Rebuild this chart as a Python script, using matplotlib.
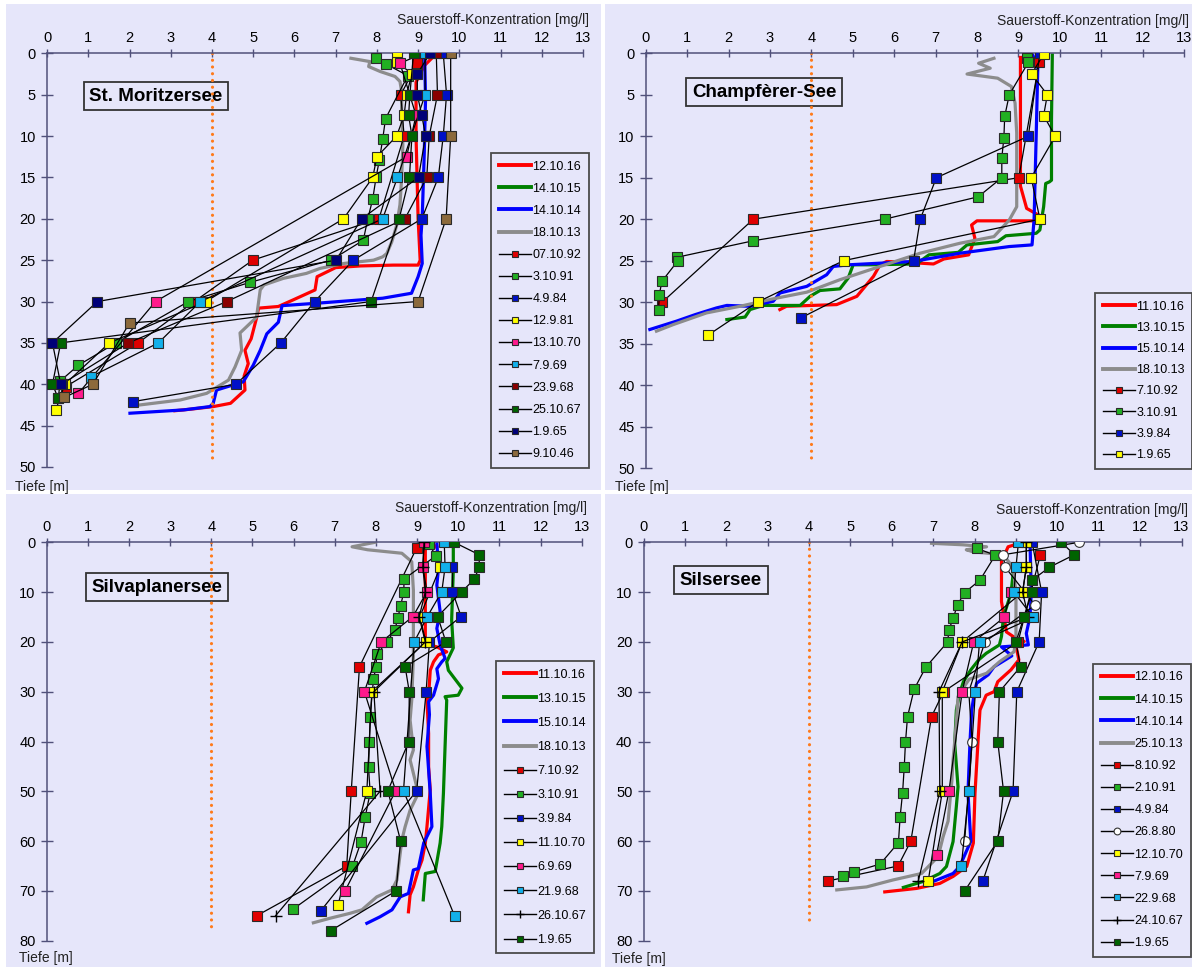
import matplotlib
matplotlib.use('Agg')
import matplotlib.pyplot as plt
from matplotlib.lines import Line2D
from matplotlib.patches import Rectangle

plt.rcParams['font.family'] = ['Liberation Sans', 'DejaVu Sans']

W, H = 1192, 967
BG = '#e6e6fa'

# --- St. Moritzersee -------------------------------------------------------
sm_161012 = ([9.35, 9.15, 8.95, 8.95, 9.0, 9.05, 9.0, 8.4, 7.6, 7.0, 6.55, 6.5, 5.97, 5.61, 5.13,
              5.08, 4.95, 4.8, 4.88, 4.78, 4.8, 4.45, 4.03, 3.5, 3.1],
             [0.5, 1.5, 3.5, 10, 20, 25.0, 25.6, 25.6, 25.7, 25.9, 27.0, 28.6, 29.8, 30.6, 30.8,
              32.0, 34.5, 35.9, 37.5, 39.0, 40.7, 42.3, 42.7, 43.0, 43.2])
sm_151014 = ([], [])
sm_141014 = ([9.16, 9.18, 9.15, 9.1, 9.07, 9.1, 9.0, 8.84, 8.14, 6.56, 5.7, 5.61, 5.33, 5.17, 5.0,
              4.76, 4.11, 4.03, 3.95, 3.31, 2.01],
             [0.5, 5.6, 12, 19.8, 22, 25.4, 27.0, 29.0, 29.6, 30.2, 30.5, 32.5, 33.9, 35.9, 37.7,
              39.7, 40.7, 42.3, 42.7, 43.1, 43.5])
sm_131018 = ([7.37, 7.83, 7.8, 8.08, 8.44, 8.56, 8.6, 8.6, 8.63, 8.6, 8.56, 8.48, 8.36, 8.24, 8.14,
              7.92, 7.2, 6.62, 6.29, 5.73, 5.26, 5.17, 5.08, 4.68, 4.72, 4.56, 4.4, 3.87, 3.23, 2.25],
             [0.6, 1.0, 1.6, 2.2, 2.8, 3.4, 4.6, 7.1, 11.1, 15.1, 18.3, 20.8, 22.8, 24.2, 24.6,
              25.0, 25.4, 26.0, 26.6, 27.2, 28.0, 28.6, 31.9, 33.8, 35.9, 37.9, 39.5, 41.1, 41.9, 42.5])

sm_921007 = ([8.98, 8.58, 8.66, 8.05, 4.99, 3.57, 2.21, 0.45], [1.2, 5, 10, 20, 25, 30, 35, 40.3])
sm_911003 = ([7.98, 8.22, 8.75, 8.21, 8.14, 8.06, 7.98, 7.9, 7.78, 7.67, 6.89, 4.91, 3.43, 1.67,
              0.76, 0.32, 0.27],
             [0.6, 1.3, 2.7, 7.9, 10.4, 12.9, 15, 17.6, 20, 22.6, 25, 27.7, 30, 35, 37.7, 39.6, 41.7])
sm_840904 = ([9.61, 9.69, 9.61, 9.49, 9.09, 7.43, 6.49, 5.67, 4.58, 2.08],
             [0, 5, 10, 15, 20, 25, 30, 35, 40, 42.1])
sm_810912 = ([8.48, 8.48, 8.85, 8.72, 8.66, 8.48, 8.0, 7.9, 7.19, 3.85, 1.51, 0.43, 0.21],
             [0, 1, 2.5, 5, 7.5, 10, 12.5, 15, 20, 30, 35, 40, 43.1])
sm_701013 = ([9.13, 8.56, 8.95, 8.72, 2.63, 0.76], [0, 1.2, 7.5, 12.5, 30, 41.1])
sm_690907 = ([9.17, 9.17, 8.5, 8.14, 3.72, 2.7, 1.06], [0, 5, 15, 20, 30, 35, 39.1])
sm_680923 = ([9.44, 9.47, 9.27, 9.21, 8.68, 4.36, 1.97, 0.35], [0, 5, 10, 15, 20, 30, 35, 40])
sm_671025 = ([8.89, 8.8, 8.77, 8.85, 8.79, 8.54, 7.86, 0.33, 0.13, 0.27],
             [0, 5, 7.5, 10, 15, 20, 30, 35, 40, 41.7])
sm_650901 = ([9.29, 8.98, 8.98, 9.09, 9.18, 9.01, 7.63, 7.01, 1.22, 0.13, 0.33],
             [0, 2.5, 5, 7.5, 10, 15, 20, 25, 30, 35, 40])
sm_461009 = ([9.79, 9.79, 9.68, 9.0, 2.0, 1.11, 0.41], [0, 10, 20, 30, 32.6, 40, 41.6])

# --- Champfèrer-See --------------------------------------------------------
cs_161011 = ([9.05, 9.05, 9.05, 9.2, 9.52, 9.4, 8.0, 7.87, 7.95, 7.8, 7.2, 6.95, 6.3, 5.82, 5.66,
              5.5, 5.1, 4.61, 3.4, 3.24],
             [0.5, 1.5, 16, 18.7, 19.6, 20.2, 20.2, 20.7, 22.3, 24.3, 24.8, 25.4, 25.2, 25.1, 25.5,
              26.9, 29.3, 30.3, 30.5, 30.9])
cs_151013 = ([9.82, 9.8, 9.8, 9.75, 9.66, 9.61, 9.52, 9.43, 8.7, 8.5, 7.76, 7.55, 6.84, 6.54, 5.42,
              5.01, 4.89, 4.69, 4.21, 3.97, 3.73, 2.84, 2.52, 2.4, 1.96],
             [0.2, 8, 15.3, 15.5, 15.7, 18.5, 21.3, 21.7, 22.0, 22.7, 23.1, 24.0, 24.3, 25.4, 25.5,
              25.5, 27.1, 28.4, 28.6, 29.3, 30.4, 30.4, 30.9, 31.8, 32.1])
cs_141015 = ([9.33, 9.47, 9.43, 9.38, 9.33, 8.78, 7.59, 6.46, 4.9, 4.53, 4.37, 3.89, 3.24, 3.08,
              2.52, 1.96, 1.71, 1.2, 0.74, 0.1],
             [0, 1.6, 10, 20, 23.1, 23.3, 24.1, 25.1, 25.5, 25.7, 26.7, 28.1, 28.9, 29.9,
              30.5, 30.4, 30.7, 31.5, 32.3, 33.3])
cs_131018 = ([8.41, 8.04, 8.32, 7.76, 8.5, 8.83, 8.92, 8.96, 8.96, 8.78, 8.41, 7.59, 6.63, 5.66,
              4.69, 3.89, 3.08, 2.28, 1.47, 0.67, 0.26],
             [0.6, 1.2, 1.8, 2.5, 3.0, 4.0, 6.0, 9.6, 18.5, 20.1, 22.1, 22.9, 24.1, 25.7,
              27.3, 28.8, 29.6, 30.5, 31.3, 32.7, 33.5])

cs_921007 = ([9.5, 9.01, 2.6, 0.4], [1.1, 15, 20, 30])
cs_911003 = ([9.22, 9.24, 8.78, 8.67, 8.65, 8.6, 8.6, 8.03, 5.77, 2.6, 0.75, 0.78, 0.39, 0.33, 0.31],
             [0.6, 1.1, 5, 7.6, 10.2, 12.6, 15, 17.3, 20, 22.6, 24.6, 25, 27.5, 29.1, 30.9])
cs_840903 = ([9.52, 9.24, 7.02, 6.63, 6.47, 3.75], [0, 10, 15, 20, 25, 31.9])
cs_650901 = ([9.61, 9.32, 9.7, 9.61, 9.89, 9.31, 9.52, 4.78, 2.7, 1.5],
             [0.1, 2.5, 5, 7.5, 10, 15, 20, 25, 30, 34])

# --- Silvaplanersee --------------------------------------------------------
sv_161011 = ([9.32, 9.48, 9.2, 9.2, 9.48, 9.72, 9.52, 9.4, 9.32, 9.28, 9.24, 9.28, 9.28, 9.32,
              9.24, 9.2, 9.12, 9.03, 8.91, 8.83, 8.79],
             [0.2, 0.9, 1.2, 20.4, 21.0, 22.0, 22.6, 24.0, 25.7, 30.7, 31.7, 38.4, 45.1, 49.7,
              57.1, 60.4, 63.8, 65.8, 69.2, 70.8, 74.2])
sv_151013 = ([9.88, 9.88, 9.84, 9.88, 9.72, 9.76, 10.09, 10.0, 9.68, 9.72, 9.68, 9.64, 9.6, 9.56,
              9.44, 9.2, 9.15],
             [0, 5.6, 15.6, 21.2, 24.0, 25.7, 29.3, 30.7, 31.0, 31.7, 41.0, 50.4, 57.1, 60.4,
              66.1, 66.5, 71.8])
sv_141015 = ([9.48, 9.52, 9.48, 9.56, 9.48, 9.56, 9.68, 9.6, 9.48, 9.52, 9.4, 9.28, 9.3, 9.24,
              9.32, 9.36, 9.16, 9.03, 8.91, 8.79, 8.59, 8.39, 8.1, 7.78],
             [0, 5.2, 8.6, 13.9, 17.3, 20.6, 23.3, 24.0, 25.4, 27.4, 30.7, 32.0, 34.6, 41.0,
              50.4, 57.1, 60.4, 65.5, 65.8, 70.5, 71.2, 73.8, 75.2, 76.5])
sv_131018 = ([7.98, 7.42, 7.8, 8.63, 8.87, 8.91, 8.91, 8.87, 8.83, 8.91, 8.83, 9.03, 8.83, 8.71,
              8.63, 8.55, 8.51, 8.39, 8.02, 7.66, 7.37, 6.88, 6.48],
             [0, 0.9, 1.5, 2.2, 3.9, 9.6, 23, 31.7, 35.7, 41.7, 43.7, 50.4, 53.8, 57.1,
              59.8, 65.1, 67.8, 69.8, 71.2, 73.8, 74.5, 75.5, 76.4])

sv_921007 = ([8.99, 7.6, 7.4, 7.29, 5.1], [1.1, 25, 50, 65, 75])
sv_911003 = ([9.28, 9.46, 8.68, 8.68, 8.6, 8.53, 8.46, 8.26, 8.02, 8.0, 7.94, 7.86, 7.84, 7.82,
              7.86, 7.74, 7.64, 7.43, 5.98],
             [0.3, 2.7, 7.4, 9.9, 12.7, 15.3, 17.6, 20.1, 22.5, 25.1, 27.5, 35.0, 40.2, 45.2,
              50.3, 55.1, 60.1, 65.1, 73.7])
sv_840903 = ([9.86, 9.86, 10.07, 9.3, 9.22, 8.99, 6.66], [5, 9.9, 14.9, 20, 30, 49.9, 74])
sv_701011 = ([9.56, 9.07, 9.21, 7.9, 7.78, 7.08], [5, 14.9, 20, 30, 49.9, 72.8])
sv_690906 = ([9.17, 9.14, 9.24, 8.9, 8.13, 7.72, 8.48, 7.25], [0, 5, 9.9, 14.9, 20, 30, 49.9, 70])
sv_680921 = ([9.66, 9.68, 9.6, 9.25, 8.93, 8.67, 9.91], [0, 5, 9.9, 14.9, 20, 49.9, 75])
sv_671026 = ([9.17, 9.14, 9.2, 9.05, 9.2, 7.95, 8.1, 5.56], [0, 5, 10, 15, 20, 30, 50, 75])
sv_650901 = ([9.9, 10.51, 10.51, 10.39, 10.09, 9.5, 9.7, 8.71, 8.81, 8.8, 8.29, 8.6, 8.49, 6.9],
             [0, 2.5, 5, 7.4, 9.9, 14.9, 20, 25, 30, 40, 49.9, 60, 70, 78])

# --- Silsersee -------------------------------------------------------------
ss_161012 = ([9.01, 8.81, 8.65, 8.65, 8.77, 8.93, 9.2, 8.97, 9.02, 9.07, 8.88, 8.56, 8.47, 8.28,
              8.13, 8.09, 8.01, 7.97, 7.81, 7.48, 7.16, 6.6, 5.83],
             [0.4, 0.9, 3.9, 11.9, 18.0, 18.9, 19.9, 20.6, 21.6, 23.6, 25.6, 28.0, 30.0, 30.7,
              33.7, 39.0, 50.4, 60.4, 65.1, 67.1, 68.5, 69.5, 70.2])
ss_151014 = ([8.95, 8.88, 8.7, 8.65, 8.6, 8.28, 8.1, 7.91, 7.73, 7.64, 7.56, 7.52, 7.6, 7.56,
              7.48, 7.32, 7.16, 6.76, 6.28],
             [5, 10.2, 14.9, 18.9, 20.6, 22.3, 23.6, 25.6, 28, 30.3, 33.7, 40.4, 49.1, 53,
              60.1, 65.1, 66.5, 68.1, 69.3])
ss_141014 = ([9.34, 9.37, 9.34, 9.25, 9.3, 8.65, 8.9, 8.47, 8.33, 8.05, 8.0, 7.93, 7.89, 7.84,
              7.91, 7.64, 7.48, 7.0],
             [0.2, 10, 14.9, 18.3, 20.6, 21.0, 22.8, 25, 26.6, 28.3, 30, 33.7, 40, 50.4,
              60, 65.1, 66.5, 68.1])
ss_131025 = ([6.96, 7.72, 8.29, 7.8, 7.96, 8.69, 8.93, 9.0, 9.0, 8.95, 8.6, 8.29, 7.87, 7.72,
              7.6, 7.56, 7.52, 7.48, 7.45, 7.4, 7.36, 7.24, 7.12, 6.72, 6.03, 5.39, 4.67],
             [0.2, 0.5, 0.9, 1.5, 1.9, 2.5, 5, 10, 20, 22, 24, 26.3, 27.5, 29.3,
              31, 36, 40, 43.7, 48, 52.4, 56, 59.1, 63.1, 66.5, 67.8, 69.2, 69.8])

ss_921008 = ([9.59, 9.05, 7.25, 6.96, 6.46, 6.15, 4.46], [2.5, 20, 30, 35, 60, 65, 68])
ss_911002 = ([8.05, 8.5, 8.13, 7.76, 7.59, 7.48, 7.38, 7.35, 6.82, 6.54, 6.38, 6.33, 6.3, 6.26,
              6.2, 6.16, 5.72, 5.08, 4.83],
             [1.2, 2.6, 7.6, 10.1, 12.5, 15.3, 17.6, 20, 25.1, 29.5, 35, 40.2, 45.2, 50.3,
              55.2, 60.3, 64.6, 66.2, 67.1])
ss_840904 = ([9.39, 9.62, 9.56, 9.02, 8.93, 8.2], [0, 10, 20, 30, 50, 68])
ss_800826 = ([10.53, 8.69, 8.74, 9.46, 8.25, 7.86, 7.94, 7.76], [0, 2.5, 5, 12.6, 20, 30, 40, 60])
ss_701012 = ([9.25, 9.25, 9.16, 7.7, 7.22, 7.22, 6.88], [0, 5, 10, 20, 30, 50, 68])
ss_690907 = ([8.88, 8.71, 7.98, 7.7, 7.38, 7.08], [10, 15.1, 20, 30, 50, 62.8])
ss_680922 = ([9.06, 9.0, 8.95, 9.42, 8.12, 8.02, 7.86, 7.68], [0, 5, 10, 15.1, 20, 30, 50, 65])
ss_671024 = ([9.25, 9.25, 9.16, 9.3, 7.7, 7.14, 7.16, 6.64], [0, 5, 10, 15, 20, 30, 50, 68])
ss_650901 = ([10.1, 10.41, 9.81, 9.39, 9.39, 9.19, 9.0, 9.11, 8.6, 8.56, 8.7, 8.56, 7.76],
             [0, 2.5, 5, 7.6, 10, 15.1, 20, 25, 30, 40, 50, 60, 70])

# colours
RED, GREEN, BLUE, GREY = '#ff0000', '#008000', '#0000ff', '#8c8c8c'
M_RED, M_GREEN, M_BLUE, M_YEL = '#e00000', '#22b022', '#0010c8', '#ffff00'
M_PINK, M_CYAN, M_DRED, M_DGREEN = '#ff1a8c', '#12b0ea', '#8b0000', '#006400'
M_NAVY, M_BROWN = '#000078', '#8c6a3c'


def px_axes(l, t, r, b):
    return fig.add_axes([l / W, 1 - b / H, (r - l) / W, (b - t) / H])


def draw_lake(ax, title, title_xy, depth, dot_end, curves, probes, leg_xy, leg_space):
    ax.set_facecolor('none')
    ax.set_xlim(0, 13)
    ax.set_ylim(depth, 0)
    ax.xaxis.tick_top()
    ax.set_xticks(range(14))
    ax.set_yticks(range(0, depth + 1, 5 if depth == 50 else 10))
    for s in ('right', 'bottom'):
        ax.spines[s].set_visible(False)
    for s in ('left', 'top'):
        ax.spines[s].set_color('#50507a')
        ax.spines[s].set_linewidth(1.1)
    ax.tick_params(axis='x', direction='inout', length=6, width=1, color='#50507a',
                   labelsize=10.5, pad=3)
    ax.tick_params(axis='y', direction='inout', length=8, width=1, color='#50507a',
                   labelsize=10.5, pad=4)

    ax.text(title_xy[0], title_xy[1], title, fontsize=13.5, fontweight='bold',
            ha='center', va='center', zorder=1.5,
            bbox=dict(boxstyle='square,pad=0.3', fc=BG, ec='#333333', lw=1.3))
    ax.plot([4, 4], [0, dot_end], color='#ff7a1a', lw=2.3, linestyle=(0, (0.01, 2.1)),
            dash_capstyle='round', zorder=2.5)

    handles, labels = [], []
    for (xs, ys), col, lab in curves:
        ax.plot(xs, ys, color=col, lw=2.3, zorder=2, solid_joinstyle='round')
        handles.append(Line2D([], [], color=col, lw=2.8))
        labels.append(lab)
    for (xs, ys), face, mk, lab in probes:
        if mk == '+':
            kw = dict(marker='+', ms=8.5, mec='black', mew=1.0)
        elif mk == 'o':
            kw = dict(marker='o', ms=7, mfc='white', mec='#333333', mew=0.8)
        else:
            kw = dict(marker='s', ms=6.9, mfc=face, mec='#2a2a2a', mew=0.8)
        ax.plot(xs, ys, color='black', lw=0.9, zorder=3, **kw)
        handles.append(Line2D([], [], color='black', lw=1.0, **kw))
        labels.append(lab)

    leg = ax.legend(handles, labels, loc='upper left',
                    bbox_to_anchor=(leg_xy[0] / W, 1 - leg_xy[1] / H),
                    bbox_transform=fig.transFigure, borderaxespad=0,
                    prop={'family': 'Liberation Sans', 'size': 9},
                    fancybox=False, framealpha=1, facecolor=BG, edgecolor='#4a4a4a',
                    handlelength=2.6, handletextpad=0.1, labelspacing=leg_space,
                    borderpad=0.6, numpoints=1, markerscale=0.7)
    leg.get_frame().set_linewidth(1.3)


fig = plt.figure(figsize=(W / 100, H / 100), dpi=100)
fig.patch.set_facecolor('white')
for l, t, r, b in [(6, 4, 601, 490), (605, 4, 1192, 490), (6, 494, 601, 967), (605, 494, 1192, 967)]:
    fig.add_artist(Rectangle((l / W, 1 - b / H), (r - l) / W, (b - t) / H,
                             transform=fig.transFigure, fc=BG, ec='none', zorder=-1))

ax1 = px_axes(47.1, 53.3, 583.0, 467.0)
draw_lake(ax1, 'St. Moritzersee', (2.64, 5.2), 50, 49.5,
          [(sm_161012, RED, '12.10.16'), (sm_151014, GREEN, '14.10.15'),
           (sm_141014, BLUE, '14.10.14'), (sm_131018, GREY, '18.10.13')],
          [(sm_921007, M_RED, 's', '07.10.92'), (sm_911003, M_GREEN, 's', '3.10.91'),
           (sm_840904, M_BLUE, 's', '4.9.84'), (sm_810912, M_YEL, 's', '12.9.81'),
           (sm_701013, M_PINK, 's', '13.10.70'), (sm_690907, M_CYAN, 's', '7.9.69'),
           (sm_680923, M_DRED, 's', '23.9.68'), (sm_671025, M_DGREEN, 's', '25.10.67'),
           (sm_650901, M_NAVY, 's', '1.9.65'), (sm_461009, M_BROWN, 's', '9.10.46')],
          (491, 153), 0.81)

ax2 = px_axes(645.7, 53.3, 1184.0, 468.0)
draw_lake(ax2, 'Champfèrer-See', (2.86, 4.7), 50, 49.4,
          [(cs_161011, RED, '11.10.16'), (cs_151013, GREEN, '13.10.15'),
           (cs_141015, BLUE, '15.10.14'), (cs_131018, GREY, '18.10.13')],
          [(cs_921007, M_RED, 's', '7.10.92'), (cs_911003, M_GREEN, 's', '3.10.91'),
           (cs_840903, M_BLUE, 's', '3.9.84'), (cs_650901, M_YEL, 's', '1.9.65')],
          (1095, 293), 0.74)

ax3 = px_axes(46.7, 542.3, 581.7, 940.7)
draw_lake(ax3, 'Silvaplanersee', (2.69, 9.0), 80, 78.2,
          [(sv_161011, RED, '11.10.16'), (sv_151013, GREEN, '13.10.15'),
           (sv_141015, BLUE, '15.10.14'), (sv_131018, GREY, '18.10.13')],
          [(sv_921007, M_RED, 's', '7.10.92'), (sv_911003, M_GREEN, 's', '3.10.91'),
           (sv_840903, M_BLUE, 's', '3.9.84'), (sv_701011, M_YEL, 's', '11.10.70'),
           (sv_690906, M_PINK, 's', '6.9.69'), (sv_680921, M_CYAN, 's', '21.9.68'),
           (sv_671026, 'black', '+', '26.10.67'), (sv_650901, M_DGREEN, 's', '1.9.65')],
          (496, 661), 0.97)

ax4 = px_axes(643.5, 542.3, 1181.5, 940.7)
draw_lake(ax4, 'Silsersee', (1.87, 7.6), 80, 76.8,
          [(ss_161012, RED, '12.10.16'), (ss_151014, GREEN, '14.10.15'),
           (ss_141014, BLUE, '14.10.14'), (ss_131025, GREY, '25.10.13')],
          [(ss_921008, M_RED, 's', '8.10.92'), (ss_911002, M_GREEN, 's', '2.10.91'),
           (ss_840904, M_BLUE, 's', '4.9.84'), (ss_800826, 'white', 'o', '26.8.80'),
           (ss_701012, M_YEL, 's', '12.10.70'), (ss_690907, M_PINK, 's', '7.9.69'),
           (ss_680922, M_CYAN, 's', '22.9.68'), (ss_671024, 'black', '+', '24.10.67'),
           (ss_650901, M_DGREEN, 's', '1.9.65')],
          (1093, 664), 0.81)

# axis captions
for x, y in [(589, 20), (1189, 21), (587, 508), (1188, 510)]:
    fig.text(x / W, 1 - y / H, 'Sauerstoff-Konzentration [mg/l]', fontsize=10,
             ha='right', va='center', color='#222222')
for x, y in [(15, 487), (615, 487), (19, 958), (612, 959)]:
    fig.text(x / W, 1 - y / H, 'Tiefe [m]', fontsize=10, ha='left', va='center',
             color='#222222')

fig.savefig('out.png', dpi=100)
